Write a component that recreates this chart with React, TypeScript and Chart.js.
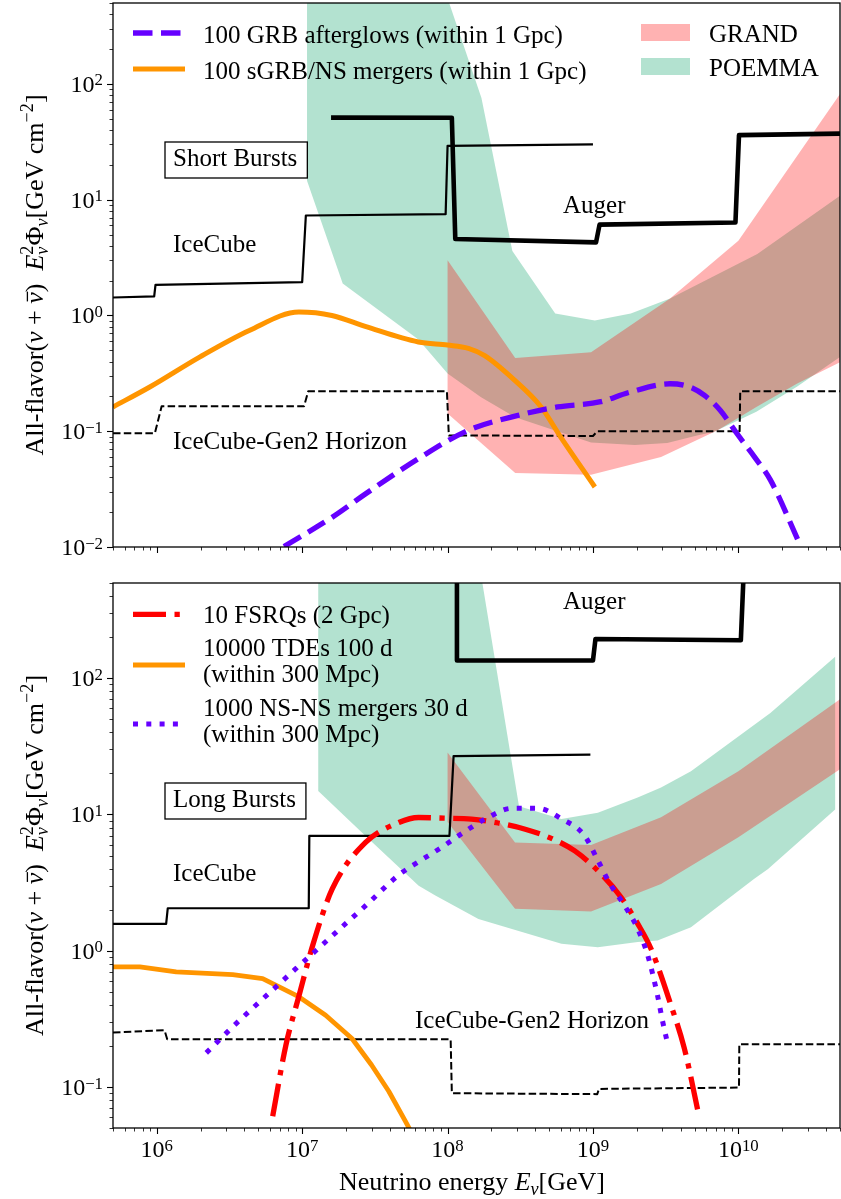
import React, { useEffect, useRef } from 'react';
import { Chart, registerables } from 'chart.js';

Chart.register(...registerables);

// ---------------- styling constants ----------------
const FONT_FAMILY = '"Liberation Serif", "DejaVu Serif", serif';
const PURPLE = '#6600ff';
const ORANGE = '#ff9500';
const RED = '#ff0000';
const GRAND_FILL = 'rgba(255,0,0,0.3)';
const POEMMA_FILL = 'rgba(2,158,98,0.3)';

// ---------------- axes ----------------
const X_MIN = 5e5;
const X_MAX = 5e10;
const xTickExps = [6, 7, 8, 9, 10];
const shortYMin = 0.01;
const shortYMax = 500;
const shortYTickExps = [-2, -1, 0, 1, 2];
const longYMin = 0.05;
const longYMax = 500;
const longYTickExps = [-1, 0, 1, 2];

// ---------------- texts ----------------
const shortLegendTexts = ['100 GRB afterglows (within 1 Gpc)', '100 sGRB/NS mergers (within 1 Gpc)'];
const bandLegendTexts = ['GRAND', 'POEMMA'];
const longLegendTexts = ['10 FSRQs (2 Gpc)', '10000 TDEs 100 d', '(within 300 Mpc)', '1000 NS-NS mergers 30 d', '(within 300 Mpc)'];
const annotationTexts = ['Short Bursts', 'Long Bursts', 'IceCube', 'Auger', 'IceCube-Gen2 Horizon'];

// ================= Short bursts panel data =================
const shortIceCubeE = [5e5, 9.6e5, 9.8e5, 1.0e7, 1.06e7, 9.7e7, 1.0e8, 1.0e9];
const shortIceCubeV = [1.43, 1.46, 1.84, 1.94, 7.3, 7.5, 29.2, 30.1];

const shortAugerE = [1.58e7, 1.07e8, 1.13e8, 1.05e9, 1.11e9, 9.55e9, 1.01e10, 5e10];
const shortAugerV = [51.2, 51, 4.58, 4.28, 6.09, 6.36, 36.1, 37.2];

const shortGen2E = [5e5, 9.7e5, 1.08e6, 1.03e7, 1.1e7, 9.9e7, 1.02e8, 1.0e9, 1.07e9, 1.02e10, 1.03e10, 5e10];
const shortGen2V = [0.096, 0.096, 0.164, 0.164, 0.221, 0.221, 0.092, 0.091, 0.1, 0.1, 0.222, 0.222];

const shortSgrbE = [5e5, 8.95e5, 1.97e6, 4.33e6, 9.5e6, 1.6e7, 2.75e7, 6.3e7, 1.0e8, 1.39e8, 1.8e8, 2.9e8, 4.4e8, 6.0e8, 1.03e9];
const shortSgrbV = [0.162, 0.241, 0.437, 0.742, 1.07, 1.0, 0.8, 0.59, 0.555, 0.52, 0.45, 0.275, 0.162, 0.089, 0.033];

const shortGrbE = [7.5e6, 1.6e7, 2.75e7, 6.3e7, 1.39e8, 3.05e8, 5.7e8, 1.13e9, 1.74e9, 3.39e9, 4.69e9, 5.85e9, 7.5e9, 9.8e9, 1.29e10, 1.66e10, 2.66e10];
const shortGrbV = [0.0101, 0.018, 0.029, 0.058, 0.102, 0.137, 0.162, 0.18, 0.215, 0.257, 0.24, 0.204, 0.152, 0.095, 0.06, 0.038, 0.0104];

const shortPoemmaUpE = [1.08e7, 1.0e8, 1.71e8, 2.79e8, 5.5e8, 1.03e9, 1.82e9, 3.39e9, 1.35e10, 5e10];
const shortPoemmaUpV = [1e5, 550, 75.7, 3.6, 1.04, 0.905, 1.04, 1.4, 3.4, 10.8];
const shortPoemmaLoE = [1.08e7, 1.9e7, 6.3e7, 1.0e8, 1.7e8, 2.92e8, 9.7e8, 1.94e9, 3.24e9, 5.2e9, 6.8e9, 1.33e10, 2.54e10, 5e10];
const shortPoemmaLoV = [14.6, 1.89, 0.62, 0.316, 0.197, 0.132, 0.08, 0.076, 0.079, 0.092, 0.099, 0.147, 0.244, 0.437];

const shortGrandUpE = [1.0e8, 2.92e8, 9.7e8, 3.39e9, 1.0e10, 5e10];
const shortGrandUpV = [3.0, 0.43, 0.48, 1.4, 4.43, 82];
const shortGrandLoE = [1.0e8, 2.92e8, 9.7e8, 2.94e9, 7.2e9, 1.33e10, 2.54e10, 5e10];
const shortGrandLoV = [0.142, 0.0436, 0.042, 0.06, 0.102, 0.162, 0.258, 0.395];

// ================= Long bursts panel data =================
const longIceCubeE = [5e5, 1.16e6, 1.19e6, 1.11e7, 1.12e7, 1.03e8, 1.1e8, 9.6e8];
const longIceCubeV = [1.576, 1.576, 2.05, 2.05, 6.96, 6.96, 26.8, 27.5];

const longAugerE = [1.16e8, 1.16e8, 1.0e9, 1.04e9, 1.04e10, 1.1e10];
const longAugerV = [800, 135, 135, 194, 190, 800];

const longGen2E = [5e5, 1.13e6, 1.18e6, 1.05e8, 1.07e8, 1.07e9, 1.1e9, 1.01e10, 1.015e10, 5e10];
const longGen2V = [0.251, 0.261, 0.224, 0.224, 0.09, 0.0886, 0.0968, 0.099, 0.206, 0.206];

const longFsrqE = [6.27e6, 7.73e6, 9.53e6, 1.18e7, 1.61e7, 2.73e7, 4.62e7, 6.33e7, 9.4e7, 1.46e8, 2.23e8, 3.42e8, 5.3e8, 7.5e8, 1.08e9, 1.56e9, 2.03e9, 2.51e9, 3.44e9, 4.25e9, 5.38e9];
const longFsrqV = [0.061, 0.203, 0.471, 1.09, 2.84, 6.24, 8.73, 9.5, 9.4, 9.26, 8.66, 7.8, 6.6, 5.4, 3.87, 2.47, 1.58, 1.03, 0.398, 0.192, 0.06];

const longNsE = [2.19e6, 3.51e6, 4.8e6, 6.6e6, 9.04e6, 1.24e7, 1.99e7, 2.73e7, 4.62e7, 6.33e7, 9.1e7, 1.29e8, 1.86e8, 2.77e8, 4.2e8, 6.1e8, 8.7e8, 1.07e9, 1.3e9, 1.65e9, 2.03e9, 2.38e9, 2.78e9, 3.0e9, 3.3e9];
const longNsV = [0.178, 0.292, 0.398, 0.543, 0.738, 1.0, 1.58, 2.14, 3.6, 4.5, 5.74, 7.4, 9.4, 11.1, 11.1, 9.26, 7.05, 4.7, 3.14, 2.14, 1.45, 0.924, 0.47, 0.31, 0.197];

const longTdeE = [5e5, 7.65e5, 1.36e6, 3.33e6, 5.35e6, 9.53e6, 1.45e7, 2.2e7, 3.0e7, 3.94e7, 5.1e7, 5.6e7];
const longTdeV = [0.76, 0.76, 0.7, 0.667, 0.624, 0.458, 0.336, 0.227, 0.145, 0.093, 0.0567, 0.047];

const longPoemmaUpE = [1.29e7, 1.0e8, 3.1e8, 6.07e8, 1.08e9, 2.03e9, 2.94e9, 4.72e9, 1.66e10, 4.63e10];
const longPoemmaUpV = [1e5, 1.8e4, 11.5, 9.26, 10.3, 13.3, 15.8, 20.8, 55.6, 144];
const longPoemmaLoE = [1.29e7, 2.73e7, 6.33e7, 8.24e7, 1.63e8, 6.07e8, 1.08e9, 2.03e9, 2.78e9, 4.72e9, 1.28e10, 1.6e10, 4.63e10];
const longPoemmaLoV = [14.9, 6.96, 3.0, 2.54, 1.71, 1.125, 1.06, 1.16, 1.19, 1.49, 3.36, 3.98, 10.9];

const longGrandE = [1.0e8, 2.91e8, 9.7e8, 2.94e9, 1.0e10, 5e10];
const longGrandUpV = [28.5, 6.23, 5.96, 9.53, 20.8, 70];
const longGrandLoV = [8.8, 2.03, 1.94, 3.09, 6.8, 21.5];

// ---------------- helpers ----------------
const LONG_TOP = 565;

type Pt = { x: number; y: number };
const pts = (E: number[], V: number[]): Pt[] => E.map((x, i) => ({ x, y: V[i] }));
const band = (Eu: number[], Vu: number[], El: number[], Vl: number[]): Pt[] => {
  const up = pts(Eu, Vu);
  const lo = pts(El, Vl).reverse();
  return [...up, ...lo, up[0]];
};

function lineDs(data: Pt[], color: string, width: number, dash: number[], order: number, smooth = false) {
  return {
    data,
    borderColor: color,
    backgroundColor: color,
    borderWidth: width,
    borderDash: dash,
    borderCapStyle: 'butt',
    borderJoinStyle: 'round',
    pointRadius: 0,
    pointHoverRadius: 0,
    fill: false,
    order,
    tension: 0,
    cubicInterpolationMode: smooth ? 'monotone' : 'default',
  };
}

function bandDs(data: Pt[], color: string, order: number) {
  return {
    data,
    borderColor: 'rgba(0,0,0,0)',
    backgroundColor: color,
    borderWidth: 0,
    pointRadius: 0,
    pointHoverRadius: 0,
    fill: 'shape',
    order,
    tension: 0,
  };
}

type Seg = { t: string; sc?: number; it?: boolean; dy?: number; hold?: boolean; bar?: boolean };

function fnt(size: number, italic?: boolean) {
  return `${italic ? 'italic ' : ''}${size}px ${FONT_FAMILY}`;
}

function drawRich(ctx: CanvasRenderingContext2D, segs: Seg[], x: number, y: number, size: number, align: 'left' | 'center' | 'right') {
  const ws = segs.map((s) => {
    ctx.font = fnt(size * (s.sc ?? 1), s.it);
    return ctx.measureText(s.t).width;
  });
  let total = 0;
  let pend = 0;
  segs.forEach((s, i) => {
    if (s.hold) pend = Math.max(pend, ws[i]);
    else {
      total += Math.max(pend, ws[i]);
      pend = 0;
    }
  });
  total += pend;
  let cx = align === 'left' ? x : align === 'center' ? x - total / 2 : x - total;
  pend = 0;
  ctx.textAlign = 'left';
  ctx.textBaseline = 'alphabetic';
  ctx.fillStyle = '#000';
  segs.forEach((s, i) => {
    const fs = size * (s.sc ?? 1);
    ctx.font = fnt(fs, s.it);
    const yy = y + (s.dy ?? 0) * size;
    ctx.fillText(s.t, cx, yy);
    if (s.bar) {
      ctx.save();
      ctx.strokeStyle = '#000';
      ctx.lineWidth = Math.max(1, fs * 0.05);
      ctx.beginPath();
      ctx.moveTo(cx + ws[i] * 0.2, yy - fs * 0.6);
      ctx.lineTo(cx + ws[i] * 1.05, yy - fs * 0.6);
      ctx.stroke();
      ctx.restore();
    }
    if (s.hold) pend = Math.max(pend, ws[i]);
    else {
      cx += Math.max(pend, ws[i]);
      pend = 0;
    }
  });
  return total;
}

const supStr = (e: number) => (e < 0 ? '\u2212' + String(-e) : String(e));

const yTitleSegs: Seg[] = [
  { t: 'All-flavor(' },
  { t: 'ν', it: true },
  { t: ' + ' },
  { t: 'ν', it: true, bar: true },
  { t: ')  ' },
  { t: 'E', it: true },
  { t: '2', sc: 0.7, dy: -0.4, hold: true },
  { t: 'ν', sc: 0.7, it: true, dy: 0.2 },
  { t: 'Φ' },
  { t: 'ν', sc: 0.7, it: true, dy: 0.2 },
  { t: '[GeV cm' },
  { t: '\u22122', sc: 0.7, dy: -0.4 },
  { t: ']' },
];

const xTitleSegs: Seg[] = [
  { t: 'Neutrino energy ' },
  { t: 'E', it: true },
  { t: 'ν', sc: 0.7, it: true, dy: 0.2 },
  { t: '[GeV]' },
];

function drawAxes(chart: any, yExps: number[], xLabels: boolean) {
  const ctx: CanvasRenderingContext2D = chart.ctx;
  const a = chart.chartArea;
  const xs = chart.scales.x;
  const ys = chart.scales.y;
  ctx.save();
  ctx.strokeStyle = '#000';
  ctx.setLineDash([]);
  for (let e = 5; e <= 10; e++) {
    for (let k = 1; k <= 9; k++) {
      const v = k * Math.pow(10, e);
      if (v < X_MIN * 0.999 || v > X_MAX * 1.001) continue;
      const px = Math.round(xs.getPixelForValue(v)) + 0.5;
      ctx.lineWidth = k === 1 ? 1.1 : 0.8;
      ctx.beginPath();
      ctx.moveTo(px, a.bottom);
      ctx.lineTo(px, a.bottom + (k === 1 ? 6 : 3.5));
      ctx.stroke();
    }
  }
  for (let e = -3; e <= 3; e++) {
    for (let k = 1; k <= 9; k++) {
      const v = k * Math.pow(10, e);
      if (v < ys.min * 0.999 || v > ys.max * 1.001) continue;
      const py = Math.round(ys.getPixelForValue(v)) + 0.5;
      ctx.lineWidth = k === 1 ? 1.1 : 0.8;
      ctx.beginPath();
      ctx.moveTo(a.left, py);
      ctx.lineTo(a.left - (k === 1 ? 6 : 3.5), py);
      ctx.stroke();
    }
  }
  ctx.lineWidth = 1.3;
  ctx.strokeRect(a.left, a.top, a.right - a.left, a.bottom - a.top);
  yExps.forEach((e) => {
    const py = ys.getPixelForValue(Math.pow(10, e));
    drawRich(ctx, [{ t: '10' }, { t: supStr(e), sc: 0.7, dy: -0.27 }], 103, py + 8, 24, 'right');
  });
  if (xLabels) {
    xTickExps.forEach((e) => {
      const px = xs.getPixelForValue(Math.pow(10, e));
      drawRich(ctx, [{ t: '10' }, { t: supStr(e), sc: 0.7, dy: -0.27 }], px, a.bottom + 29, 24, 'center');
    });
  }
  // y title
  ctx.save();
  ctx.translate(43, (a.top + a.bottom) / 2);
  ctx.rotate(-Math.PI / 2);
  drawRich(ctx, yTitleSegs, 0, 0, 26, 'center');
  ctx.restore();
  ctx.restore();
}

function label(ctx: CanvasRenderingContext2D, t: string, x: number, y: number, size = 25) {
  ctx.save();
  ctx.font = fnt(size);
  ctx.fillStyle = '#000';
  ctx.textAlign = 'left';
  ctx.textBaseline = 'alphabetic';
  ctx.fillText(t, x, y);
  const w = ctx.measureText(t).width;
  ctx.restore();
  return w;
}

function boxedLabel(ctx: CanvasRenderingContext2D, t: string, x: number, y: number) {
  const w = label(ctx, t, x, y);
  ctx.save();
  ctx.strokeStyle = '#000';
  ctx.lineWidth = 1.3;
  ctx.strokeRect(x - 8, y - 24, w + 18, 36);
  ctx.restore();
}

function legendLine(ctx: CanvasRenderingContext2D, y: number, color: string, w: number, dash: number[]) {
  ctx.save();
  ctx.strokeStyle = color;
  ctx.lineWidth = w;
  ctx.setLineDash(dash);
  ctx.lineCap = 'butt';
  ctx.beginPath();
  ctx.moveTo(133, y);
  ctx.lineTo(185, y);
  ctx.stroke();
  ctx.restore();
}

function baseOptions(yMin: number, yMax: number, padTop: number, xAxisH: number) {
  return {
    responsive: false,
    maintainAspectRatio: false,
    animation: false,
    devicePixelRatio: 1,
    events: [],
    layout: { padding: { left: 0, right: 1, top: padTop, bottom: 0 } },
    plugins: { legend: { display: false }, tooltip: { enabled: false }, title: { display: false } },
    scales: {
      x: {
        type: 'logarithmic',
        min: X_MIN,
        max: X_MAX,
        ticks: { display: false },
        grid: { display: false, drawTicks: false },
        border: { display: false },
        afterFit: (s: any) => {
          s.height = xAxisH;
        },
      },
      y: {
        type: 'logarithmic',
        min: yMin,
        max: yMax,
        ticks: { display: false },
        grid: { display: false, drawTicks: false },
        border: { display: false },
        afterFit: (s: any) => {
          s.width = 113;
        },
      },
    },
  };
}

const DASH_PURPLE = [19.5, 8.5];
const DASH_BLACK = [7.5, 3.3];
const DASH_RED = [33, 8.5, 5.3, 8.5];
const DOT_PURPLE = [5, 8.3];

function shortConfig(): any {
  return {
    type: 'line',
    data: {
      datasets: [
        lineDs(pts(shortGrbE, shortGrbV), PURPLE, 5.3, DASH_PURPLE, 1, true),
        lineDs(pts(shortSgrbE, shortSgrbV), ORANGE, 5, [], 2, true),
        lineDs(pts(shortGen2E, shortGen2V), '#000', 2, DASH_BLACK, 3),
        lineDs(pts(shortAugerE, shortAugerV), '#000', 4.6, [], 4),
        lineDs(pts(shortIceCubeE, shortIceCubeV), '#000', 2.2, [], 5),
        bandDs(band(shortGrandUpE, shortGrandUpV, shortGrandLoE, shortGrandLoV), GRAND_FILL, 19),
        bandDs(band(shortPoemmaUpE, shortPoemmaUpV, shortPoemmaLoE, shortPoemmaLoV), POEMMA_FILL, 20),
      ],
    },
    options: baseOptions(shortYMin, shortYMax, 3, 18),
    plugins: [
      {
        id: 'shortDecor',
        afterDraw(chart: any) {
          const ctx: CanvasRenderingContext2D = chart.ctx;
          drawAxes(chart, shortYTickExps, false);
          legendLine(ctx, 33, PURPLE, 5.3, DASH_PURPLE);
          label(ctx, shortLegendTexts[0], 203, 42.5);
          legendLine(ctx, 69, ORANGE, 5, []);
          label(ctx, shortLegendTexts[1], 203, 79);
          ctx.fillStyle = GRAND_FILL;
          ctx.fillRect(641, 24, 49, 17);
          ctx.fillStyle = POEMMA_FILL;
          ctx.fillRect(641, 58, 49, 17);
          label(ctx, bandLegendTexts[0], 709, 41.5);
          label(ctx, bandLegendTexts[1], 709, 76);
          boxedLabel(ctx, annotationTexts[0], 173, 166);
          label(ctx, annotationTexts[2], 173, 251.5);
          label(ctx, annotationTexts[3], 563, 213);
          label(ctx, annotationTexts[4], 173, 448.5);
        },
      },
    ],
  };
}

function longConfig(): any {
  return {
    type: 'line',
    data: {
      datasets: [
        lineDs(pts(longNsE, longNsV), PURPLE, 5, DOT_PURPLE, 1, true),
        lineDs(pts(longFsrqE, longFsrqV), RED, 5.3, DASH_RED, 2, true),
        lineDs(pts(longTdeE, longTdeV), ORANGE, 4.8, [], 3),
        lineDs(pts(longGen2E, longGen2V), '#000', 2, DASH_BLACK, 4),
        lineDs(pts(longAugerE, longAugerV), '#000', 4.6, [], 5),
        lineDs(pts(longIceCubeE, longIceCubeV), '#000', 2.2, [], 6),
        bandDs(band(longGrandE, longGrandUpV, longGrandE, longGrandLoV), GRAND_FILL, 19),
        bandDs(band(longPoemmaUpE, longPoemmaUpV, longPoemmaLoE, longPoemmaLoV), POEMMA_FILL, 20),
      ],
    },
    options: baseOptions(longYMin, longYMax, 583 - LONG_TOP, 71),
    plugins: [
      {
        id: 'longDecor',
        afterDraw(chart: any) {
          const ctx: CanvasRenderingContext2D = chart.ctx;
          const o = LONG_TOP;
          drawAxes(chart, longYTickExps, true);
          drawRich(ctx, xTitleSegs, 472, 1190 - o, 26, 'center');
          legendLine(ctx, 614.3 - o, RED, 5.3, DASH_RED);
          label(ctx, longLegendTexts[0], 203, 623 - o);
          legendLine(ctx, 665 - o, ORANGE, 4.8, []);
          label(ctx, longLegendTexts[1], 203, 656 - o);
          label(ctx, longLegendTexts[2], 203, 681.5 - o);
          legendLine(ctx, 724 - o, PURPLE, 5, DOT_PURPLE);
          label(ctx, longLegendTexts[3], 203, 716 - o);
          label(ctx, longLegendTexts[4], 203, 742 - o);
          label(ctx, annotationTexts[3], 563, 609 - o);
          boxedLabel(ctx, annotationTexts[1], 173, 807 - o);
          label(ctx, annotationTexts[2], 173, 880.7 - o);
          label(ctx, annotationTexts[4], 415, 1028.3 - o);
        },
      },
    ],
  };
}

export default function App() {
  const topRef = useRef<HTMLCanvasElement>(null);
  const botRef = useRef<HTMLCanvasElement>(null);
  useEffect(() => {
    const c1 = new Chart(topRef.current as HTMLCanvasElement, shortConfig());
    const c2 = new Chart(botRef.current as HTMLCanvasElement, longConfig());
    return () => {
      c1.destroy();
      c2.destroy();
    };
  }, []);
  return (
    <div style={{ position: 'absolute', left: 0, top: 0, width: 841, height: 1199, background: '#ffffff' }}>
      <canvas ref={topRef} width={841} height={LONG_TOP} style={{ position: 'absolute', left: 0, top: 0 }} />
      <canvas ref={botRef} width={841} height={1199 - LONG_TOP} style={{ position: 'absolute', left: 0, top: LONG_TOP }} />
    </div>
  );
}
